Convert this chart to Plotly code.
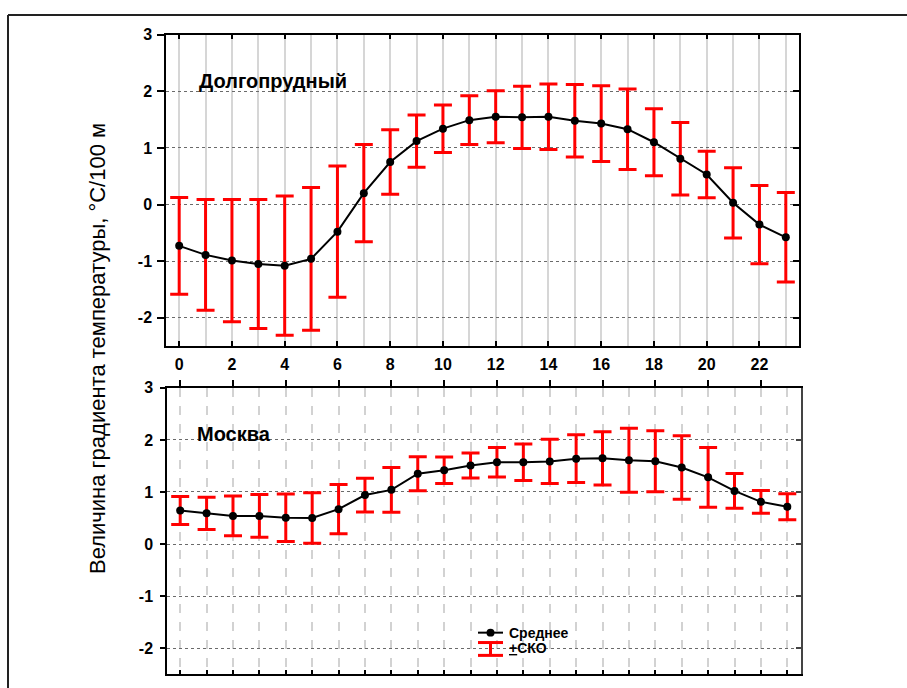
import plotly.graph_objects as go

hours = list(range(24))
x_tick_vals = list(range(0, 24, 2))
y_tick_vals = [-2, -1, 0, 1, 2, 3]
y_tick_text = ["-2", "-1", "0", "1", "2", "3"]

dolg_mean = [-0.73, -0.89, -0.99, -1.05, -1.08, -0.96, -0.48, 0.20, 0.75, 1.12, 1.34, 1.49,
             1.55, 1.54, 1.55, 1.48, 1.43, 1.33, 1.10, 0.81, 0.53, 0.03, -0.355, -0.58]
dolg_sd = [0.855, 0.98, 1.08, 1.14, 1.23, 1.26, 1.16, 0.86, 0.57, 0.46, 0.42, 0.43,
           0.46, 0.55, 0.58, 0.64, 0.67, 0.71, 0.59, 0.64, 0.41, 0.62, 0.69, 0.79]

mosc_mean = [0.645, 0.59, 0.54, 0.54, 0.505, 0.50, 0.67, 0.94, 1.04, 1.35, 1.415, 1.51,
             1.57, 1.57, 1.585, 1.64, 1.645, 1.61, 1.59, 1.47, 1.28, 1.02, 0.81, 0.715]
mosc_sd = [0.27, 0.31, 0.38, 0.41, 0.455, 0.485, 0.475, 0.325, 0.43, 0.325, 0.255, 0.24,
           0.285, 0.35, 0.425, 0.46, 0.51, 0.615, 0.585, 0.61, 0.575, 0.335, 0.22, 0.25]

W, H = 907, 688
FONT = "Liberation Sans, Arial, sans-serif"


def px(v):
    return v / W


def py(v):
    return 1 - v / H


fig = go.Figure()

err_style = dict(type="data", visible=True, color="#ff0000", thickness=3, width=9)

fig.add_trace(go.Scatter(
    x=hours, y=dolg_mean, xaxis="x", yaxis="y", mode="lines+markers",
    line=dict(color="black", width=2), marker=dict(color="black", size=8),
    error_y=dict(array=dolg_sd, **err_style), showlegend=False))

fig.add_trace(go.Scatter(
    x=hours, y=mosc_mean, xaxis="x3", yaxis="y3", mode="lines+markers",
    line=dict(color="black", width=2), marker=dict(color="black", size=8),
    error_y=dict(array=mosc_sd, **err_style), showlegend=False))

tickfont = dict(family=FONT, size=16, color="black", weight="bold")

top_xdom = [px(166), px(799)]
top_ydom = [py(342), py(27)]
bot_xdom = [px(167), px(800.5)]
bot_ydom = [py(674), py(384.3)]

xr = [-0.5, 23.5]
yr = [-2.5, 3]

fig.update_layout(
    width=W, height=H,
    margin=dict(l=0, r=0, t=0, b=0),
    paper_bgcolor="white", plot_bgcolor="white",
    # top panel
    xaxis=dict(domain=top_xdom, range=xr, anchor="y", tickmode="array", tickvals=x_tick_vals,
               ticks="inside", ticklen=5, tickwidth=1.5, tickcolor="black",
               showline=True, linecolor="black", linewidth=1.5, mirror="ticks",
               showgrid=True, gridcolor="#d6d6d6", gridwidth=1.5,
               minor=dict(dtick=1, showgrid=True, gridcolor="#d6d6d6", gridwidth=1.5, ticks=""),
               tickfont=tickfont, ticklabelstandoff=3, zeroline=False),
    yaxis=dict(domain=top_ydom, range=yr, anchor="x", tickmode="array", tickvals=y_tick_vals,
               ticktext=y_tick_text,
               ticks="outside", ticklen=7, tickwidth=1.5, tickcolor="black",
               showline=True, linecolor="black", linewidth=1.5,
               showgrid=True, gridcolor="#6a6a6a", gridwidth=1, griddash="dot",
               tickfont=tickfont, ticklabelstandoff=2, zeroline=False),
    yaxis2=dict(overlaying="y", side="right", anchor="x", range=yr, tickmode="array",
                tickvals=y_tick_vals, ticks="inside", ticklen=6, tickwidth=1.5, tickcolor="black",
                showticklabels=False, showgrid=False, showline=True, linecolor="black",
                linewidth=1.5, zeroline=False),
    # bottom panel
    xaxis3=dict(domain=bot_xdom, range=xr, anchor="y3", dtick=1, tick0=0,
                ticks="inside", ticklen=4, tickwidth=1.5, tickcolor="black",
                showticklabels=False, showline=True, linecolor="black", linewidth=1.5,
                showgrid=True, gridcolor="#d2d2d2", gridwidth=1.5, griddash="dash",
                zeroline=False),
    xaxis4=dict(overlaying="x3", side="top", anchor="y3", range=xr, tickmode="array",
                tickvals=x_tick_vals, ticks="outside", ticklen=6, tickwidth=1.5,
                tickcolor="black", showticklabels=False, showgrid=False, showline=True,
                linecolor="black", linewidth=1.5, zeroline=False),
    yaxis3=dict(domain=bot_ydom, range=yr, anchor="x3", tickmode="array", tickvals=y_tick_vals,
                ticktext=y_tick_text,
                ticks="outside", ticklen=5, tickwidth=1.5, tickcolor="black",
                showline=True, linecolor="black", linewidth=1.5,
                showgrid=True, gridcolor="#6a6a6a", gridwidth=1, griddash="dot",
                tickfont=tickfont, ticklabelstandoff=4, zeroline=False),
    yaxis4=dict(overlaying="y3", side="right", anchor="x3", range=yr, tickmode="array",
                tickvals=y_tick_vals, ticks="inside", ticklen=5, tickwidth=1.5,
                tickcolor="#444", showticklabels=False, showgrid=False, showline=True,
                linecolor="#444", linewidth=1.5, zeroline=False),
)

# dummy traces to activate overlay axes
fig.add_trace(go.Scatter(x=[None], y=[None], xaxis="x", yaxis="y2", showlegend=False,
                         hoverinfo="skip"))
fig.add_trace(go.Scatter(x=[None], y=[None], xaxis="x4", yaxis="y4", showlegend=False,
                         hoverinfo="skip"))

annots = [
    dict(text="Долгопрудный", x=px(197), y=py(74), xanchor="left", yanchor="middle",
         font=dict(family=FONT, size=20, color="black", weight="bold")),
    dict(text="Москва", x=px(195), y=py(431), xanchor="left", yanchor="middle",
         font=dict(family=FONT, size=20, color="black", weight="bold")),
    dict(text="Величина градиента температуры, °C/100 м", x=px(98), y=py(345),
         xanchor="center", yanchor="middle", textangle=-90,
         font=dict(family=FONT, size=22, color="black")),
    dict(text="Среднее", x=px(507), y=py(632), xanchor="left", yanchor="middle",
         font=dict(family=FONT, size=14, color="black", weight="bold")),
    dict(text="<u>+</u>СКО", x=px(507), y=py(648), xanchor="left", yanchor="middle",
         font=dict(family=FONT, size=14, color="black", weight="bold")),
]
for a in annots:
    a.update(xref="paper", yref="paper", showarrow=False)
fig.update_layout(annotations=annots)

shapes = [
    # outer frame (top & left)
    dict(type="line", x0=px(8), x1=1, y0=py(7), y1=py(7), line=dict(color="#222", width=2)),
    dict(type="line", x0=px(8), x1=px(8), y0=0, y1=py(7), line=dict(color="#222", width=2)),
    # legend: mean symbol
    dict(type="line", x0=px(478), x1=px(503), y0=py(632), y1=py(632),
         line=dict(color="black", width=2)),
    dict(type="circle", x0=px(486.5), x1=px(494.5), y0=py(636), y1=py(628),
         fillcolor="black", line=dict(color="black", width=0)),
    # legend: SD symbol
    dict(type="line", x0=px(490.5), x1=px(490.5), y0=py(642), y1=py(655),
         line=dict(color="#ff0000", width=3)),
    dict(type="line", x0=px(478), x1=px(503), y0=py(642), y1=py(642),
         line=dict(color="#ff0000", width=3)),
    dict(type="line", x0=px(478), x1=px(503), y0=py(655), y1=py(655),
         line=dict(color="#ff0000", width=3)),
]
for s in shapes:
    s.update(xref="paper", yref="paper")
fig.update_layout(shapes=shapes)

fig.write_html("out.html")
